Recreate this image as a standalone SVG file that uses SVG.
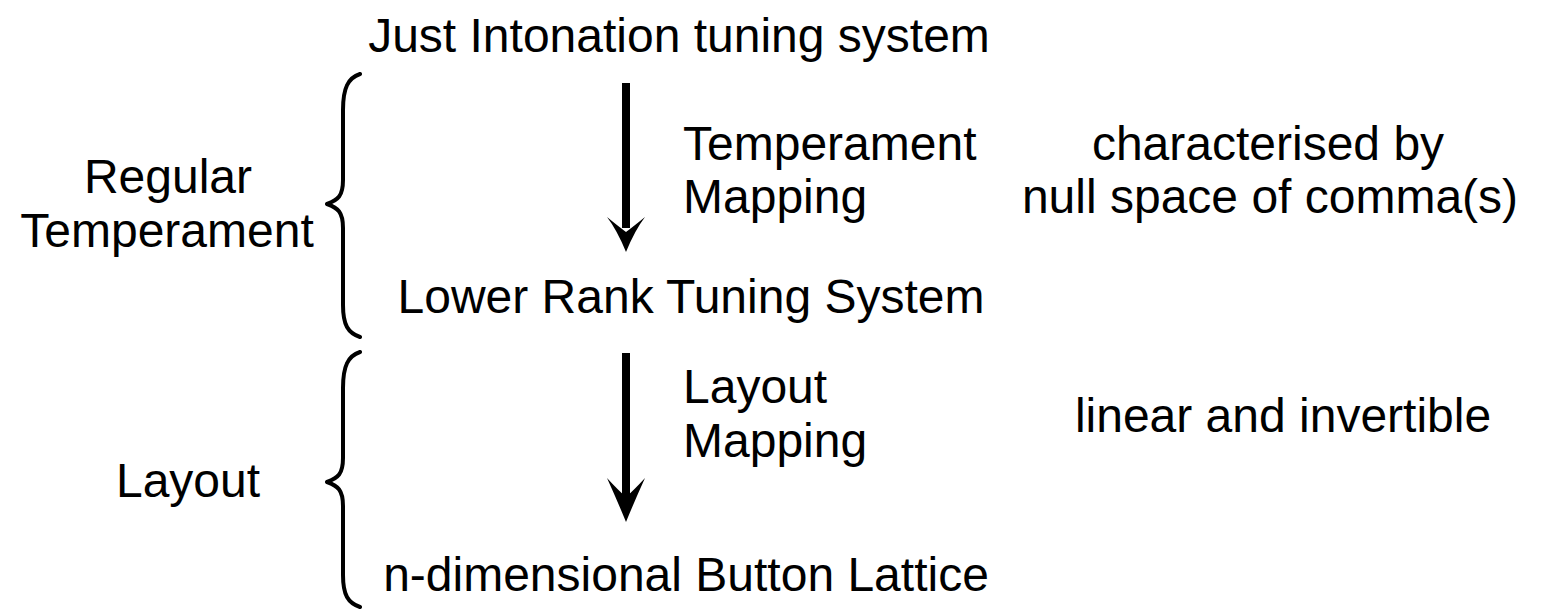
<svg xmlns="http://www.w3.org/2000/svg" width="1560" height="610" viewBox="0 0 1560 610">
<style>
text{font-family:"Liberation Sans",Arial,sans-serif;font-size:48px;fill:#000;text-anchor:middle}
.l{text-anchor:start}
.brace{fill:none;stroke:#000;stroke-width:4;stroke-linecap:round;stroke-linejoin:round}
.shaft{stroke:#000;stroke-width:8}
.head{fill:#000}
</style>
<rect width="1560" height="610" fill="#fff"/>
<g id="node-ji"><text x="679" y="52">Just Intonation tuning system</text></g>
<g id="node-lr"><text x="691" y="313">Lower Rank Tuning System</text></g>
<g id="node-bl"><text x="686" y="591">n-dimensional Button Lattice</text></g>
<g id="label-tm"><text class="l" x="683" y="160">Temperament</text><text class="l" x="683" y="213">Mapping</text></g>
<g id="label-lm"><text class="l" x="683" y="403">Layout</text><text class="l" x="683" y="457">Mapping</text></g>
<g id="label-char"><text x="1268" y="160">characterised by</text><text x="1270" y="213">null space of comma(s)</text></g>
<g id="label-lin"><text x="1283" y="432">linear and invertible</text></g>
<g id="label-rt"><text x="168" y="193">Regular</text><text x="167" y="247">Temperament</text></g>
<g id="label-layout"><text x="188" y="497">Layout</text></g>
<g id="braces">
<path class="brace" d="M360,74 C348,78 343,88 343,110 L343,180 C343,196 338,200 327,204 C338,208 343,212 343,228 L343,305 C343,325 348,333 360,337"/>
<path class="brace" d="M360,352 C348,356 343,366 343,388 L343,458 C343,474 338,478 327,482 C338,486 343,490 343,506 L343,575 C343,595 348,603 360,607"/>
</g>
<g id="connectors">
<line class="shaft" x1="626" y1="83" x2="626" y2="228"/>
<path class="head" d="M626,252 Q617,230 607,217 Q618,226 626,232 Q634,226 645,217 Q635,230 626,252Z"/>
<line class="shaft" x1="626" y1="353" x2="626" y2="498"/>
<path class="head" d="M626,522 Q617,500 607,478 Q618,490 626,497 Q634,490 645,478 Q635,500 626,522Z"/>
</g>
</svg>
